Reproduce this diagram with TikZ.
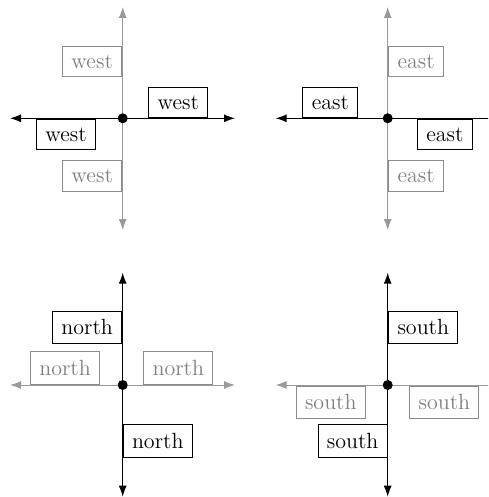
\documentclass[tikz,border=0pt]{standalone}
\usetikzlibrary{arrows.meta}
\begin{document}
\begin{tikzpicture}[x=0.5pt,y=-0.5pt,
  lbl/.style={draw, line width=0.5pt, inner xsep=4.4pt, inner ysep=4.2pt, font=\fontsize{11}{13}\selectfont},
  dim/.style={lbl, draw=black!45, text=black!50},
  axis/.style={line width=0.5pt, {Latex[length=5.5pt,width=4pt]}-{Latex[length=5.5pt,width=4pt]}},
  blackaxis/.style={axis, black},
  grayaxis/.style={axis, black!40},
  dot/.style={circle, fill=black, inner sep=0pt, minimum size=5pt}]
\clip (0,0) rectangle (488,497);
\useasboundingbox (0,0) rectangle (488,497);
% ---------- panel 1: west ----------
\coordinate (c1) at (122.7,118.3);
\coordinate (l1) at (10,118.3);
\coordinate (r1) at (235,118.3);
\coordinate (t1) at (122.7,7);
\coordinate (b1) at (122.7,230);
\draw[grayaxis] (t1) -- (b1);
\draw[blackaxis] (l1) -- (r1);
\node[dim, anchor=south east] (w1) at (122.2,77.3) {west};
\node[dim, anchor=north east] (w2) at (122.2,160.3) {west};
\node[lbl, anchor=south west] (w3) at (148.3,118.3) {west};
\node[lbl, anchor=north east] (w4) at (96,118.8) {west};
\node[dot] (d1) at (c1) {};
% ---------- panel 2: east ----------
\coordinate (c2) at (387.7,118.3);
\coordinate (l2) at (275.7,118.3);
\coordinate (r2) at (520,118.3);
\coordinate (t2) at (387.7,7);
\coordinate (b2) at (387.7,230);
\draw[grayaxis] (t2) -- (b2);
\draw[blackaxis] (l2) -- (r2);
\node[dim, anchor=south west] (e1) at (388.2,77.3) {east};
\node[dim, anchor=north west] (e2) at (388.2,160.3) {east};
\node[lbl, anchor=south east] (e3) at (358.3,118.3) {east};
\node[lbl, anchor=north west] (e4) at (417,118.8) {east};
\node[dot] (d2) at (c2) {};
% ---------- panel 3: north ----------
\coordinate (c3) at (122.7,385);
\coordinate (l3) at (10,385);
\coordinate (r3) at (235,385);
\coordinate (t3) at (122.7,272.7);
\coordinate (b3) at (122.7,496.7);
\draw[grayaxis] (l3) -- (r3);
\draw[blackaxis] (t3) -- (b3);
\node[dim, anchor=south west] (n1) at (30,384.5) {north};
\node[dim, anchor=south west] (n2) at (143.3,384.5) {north};
\node[lbl, anchor=south east] (n3) at (122.2,344) {north};
\node[lbl, anchor=north west] (n4) at (122.7,424.3) {north};
\node[dot] (d3) at (c3) {};
% ---------- panel 4: south ----------
\coordinate (c4) at (387.7,385);
\coordinate (l4) at (275.7,385);
\coordinate (r4) at (520,385);
\coordinate (t4) at (387.7,272.7);
\coordinate (b4) at (387.7,496.7);
\draw[grayaxis] (l4) -- (r4);
\draw[blackaxis] (t4) -- (b4);
\node[dim, anchor=north west] (s1) at (295.7,385.7) {south};
\node[dim, anchor=north west] (s2) at (409.3,385.7) {south};
\node[lbl, anchor=south west] (s3) at (388.2,344) {south};
\node[lbl, anchor=north east] (s4) at (387.7,424.3) {south};
\node[dot] (d4) at (c4) {};
\end{tikzpicture}
\end{document}
